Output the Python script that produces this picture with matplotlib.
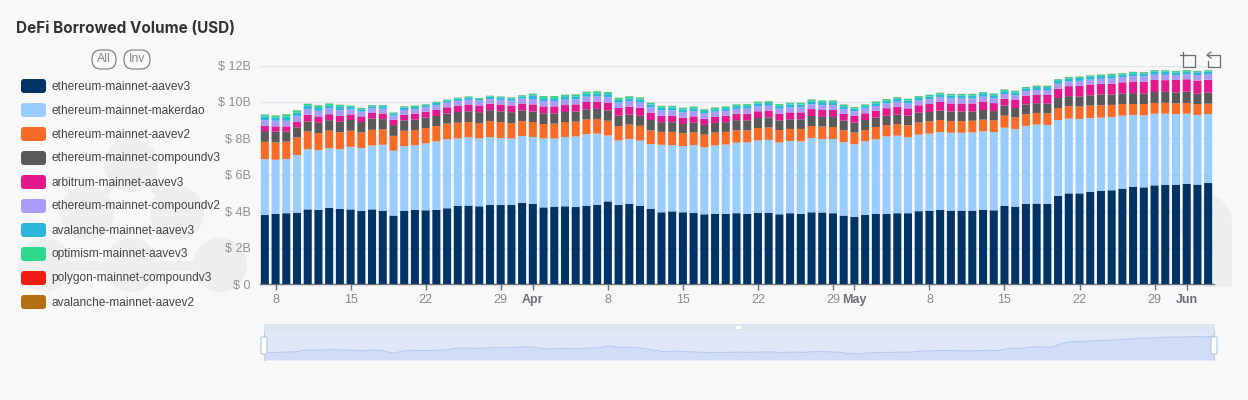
import numpy as np
import pandas as pd
import matplotlib
matplotlib.use("Agg")
import matplotlib.pyplot as plt
from matplotlib.patches import Circle, FancyBboxPatch, Rectangle
from matplotlib.lines import Line2D

W, H = 1248, 400
BG = "#f8f8f8"

dates = pd.date_range("2024-03-07", periods=89, freq="D")

series_names = ["ethereum-mainnet-aavev3", "ethereum-mainnet-makerdao", "ethereum-mainnet-aavev2",
                "ethereum-mainnet-compoundv3", "arbitrum-mainnet-aavev3", "ethereum-mainnet-compoundv2",
                "avalanche-mainnet-aavev3", "optimism-mainnet-aavev3", "polygon-mainnet-compoundv3",
                "avalanche-mainnet-aavev2"]
series_colors = ["#003366", "#99ccff", "#f76b26", "#595959", "#e3188d", "#a99bf7",
                 "#2bb6db", "#2cd98c", "#ee1c12", "#b36f12"]

eth_aavev3 = [3.79, 3.85, 3.89, 3.92, 4.10, 4.07, 4.18, 4.12, 4.10, 4.01, 4.10, 4.03, 3.76, 4.01, 4.07, 4.05,
              4.07, 4.16, 4.29, 4.31, 4.27, 4.34, 4.34, 4.34,
              4.45, 4.40, 4.21, 4.25, 4.27, 4.23, 4.30, 4.34, 4.54, 4.34, 4.40, 4.29, 4.12, 3.94, 3.99, 3.94,
              3.90, 3.83, 3.85, 3.85, 3.89, 3.85, 3.90, 3.91,
              3.83, 3.89, 3.85, 3.94, 3.93, 3.89, 3.76, 3.69, 3.80, 3.85, 3.85, 3.89, 3.89, 4.00, 4.03, 4.07,
              4.03, 4.03, 4.03, 4.07, 4.05,
              4.29, 4.25, 4.40, 4.42, 4.40, 4.84, 4.98, 4.98, 5.07, 5.11, 5.15, 5.24, 5.33, 5.31, 5.42, 5.44,
              5.44, 5.50, 5.46, 5.55]
eth_maker = [3.07, 2.98, 2.98, 3.17, 3.31, 3.29, 3.28, 3.29, 3.44, 3.46, 3.51, 3.62, 3.57, 3.57, 3.55, 3.68,
             3.77, 3.79, 3.71, 3.75, 3.73, 3.73, 3.68, 3.66,
             3.68, 3.68, 3.79, 3.75, 3.81, 3.88, 3.93, 3.92, 3.62, 3.55, 3.57, 3.59, 3.57, 3.71, 3.64, 3.64,
             3.73, 3.68, 3.77, 3.81, 3.88, 3.93, 3.99, 4.01,
             3.95, 3.97, 3.99, 4.08, 4.04, 4.08, 4.03, 3.99, 4.04, 4.10, 4.26, 4.26, 4.17, 4.21, 4.23, 4.28,
             4.28, 4.28, 4.30, 4.32, 4.30,
             4.30, 4.27, 4.29, 4.34, 4.34, 4.17, 4.11, 4.09, 4.05, 4.03, 4.03, 4.01, 3.96, 3.96, 3.94, 3.92,
             3.90, 3.86, 3.83, 3.79]
eth_aavev2 = [.95, .95, .95, .97, .97, .93, .97, .93, .88, .86, .86, .84, .81, .84, .84, .84,
              .84, .86, .86, .84, .84, .88, .88, .84,
              .82, .82, .79, .81, .82, .81, .82, .81, .81, .79, .79, .81, .75, .71, .73, .70,
              .70, .70, .70, .70, .68, .66, .68, .68,
              .68, .66, .68, .66, .68, .66, .66, .64, .62, .68, .62, .64, .66, .66, .68, .66,
              .64, .64, .64, .64, .64,
              .66, .64, .64, .64, .64, .66, .68, .68, .68, .68, .66, .64, .60, .62, .59, .60,
              .59, .59, .59, .57]
eth_compv3 = [.59, .59, .55, .55, .55, .57, .57, .57, .59, .57, .62, .57, .59, .57, .57, .57,
              .55, .55, .59, .59, .60, .60, .59, .60,
              .59, .57, .59, .57, .55, .55, .55, .55, .57, .57, .55, .55, .57, .53, .53, .51,
              .53, .53, .53, .53, .55, .55, .55, .55,
              .53, .53, .53, .55, .53, .55, .53, .55, .55, .51, .51, .53, .53, .55, .51, .51,
              .53, .53, .51, .53, .51,
              .55, .51, .53, .53, .53, .55, .55, .55, .57, .59, .57, .57, .60, .57, .60, .60,
              .60, .62, .57, .60]
arb_aavev3 = [.29, .29, .29, .29, .37, .35, .33, .33, .31, .31, .31, .31, .29, .31, .33, .33,
              .33, .35, .35, .37, .37, .35, .37, .37,
              .38, .40, .38, .38, .38, .40, .40, .40, .42, .42, .44, .44, .40, .35, .35, .35,
              .35, .33, .33, .35, .35, .37, .37, .37,
              .37, .38, .38, .38, .38, .38, .37, .37, .37, .38, .42, .42, .40, .40, .44, .48,
              .44, .44, .44, .46, .44,
              .38, .44, .48, .46, .48, .51, .55, .59, .59, .59, .59, .62, .64, .66, .66, .64,
              .68, .68, .73, .71]
eth_compv2 = [.31, .31, .31, .31, .31, .31, .31, .31, .27, .26, .26, .26, .24, .26, .24, .24,
              .26, .26, .26, .26, .26, .26, .26, .26,
              .27, .29, .29, .29, .29, .27, .29, .29, .29, .29, .29, .29, .29, .29, .29, .29,
              .29, .29, .29, .27, .27, .27, .27, .27,
              .27, .27, .27, .27, .27, .27, .27, .26, .26, .26, .26, .27, .27, .26, .26, .26,
              .27, .27, .27, .27, .27,
              .26, .26, .26, .27, .27, .27, .27, .27, .27, .27, .29, .27, .29, .29, .29, .29,
              .27, .27, .29, .29]
ava_aavev3 = [.20, .18, .22, .20, .18, .20, .16, .18, .13, .13, .11, .13, .11, .13, .13, .11,
              .13, .11, .13, .13, .09, .13, .13, .13,
              .11, .18, .16, .16, .16, .16, .16, .16, .18, .16, .16, .16, .16, .16, .16, .16,
              .15, .15, .13, .15, .15, .16, .16, .16,
              .16, .16, .16, .16, .16, .16, .15, .15, .13, .15, .15, .16, .16, .15, .15, .15,
              .16, .16, .16, .16, .16,
              .15, .15, .15, .16, .16, .16, .16, .16, .16, .16, .18, .16, .16, .16, .18, .18,
              .15, .16, .16, .16]
opt_aavev3 = [.11, .11, .13, .13, .11, .09, .11, .11, .07, .07, .05, .07, .05, .07, .07, .05,
              .05, .05, .05, .05, .05, .05, .05, .05,
              .07, .11, .11, .11, .11, .11, .11, .11, .11, .11, .11, .11, .09, .09, .09, .09,
              .09, .09, .09, .09, .09, .09, .09, .09,
              .09, .09, .09, .09, .09, .09, .09, .07, .09, .09, .09, .09, .09, .09, .09, .09,
              .09, .09, .09, .09, .09,
              .09, .09, .07, .07, .07, .09, .07, .07, .07, .07, .07, .07, .07, .07, .07, .07,
              .07, .07, .07, .07]
poly_compv3 = [.004] * 89
ava_aavev2 = [.004] * 89
series_values = [eth_aavev3, eth_maker, eth_aavev2, eth_compv3, arb_aavev3, eth_compv2,
                 ava_aavev3, opt_aavev3, poly_compv3, ava_aavev2]

y_ticks = [0, 2, 4, 6, 8, 10, 12]
y_tick_labels = ["$ 0", "$ 2B", "$ 4B", "$ 6B", "$ 8B", "$ 10B", "$ 12B"]
x_tick_dates = ["2024-03-08", "2024-03-15", "2024-03-22", "2024-03-29", "2024-04-01", "2024-04-08",
                "2024-04-15", "2024-04-22", "2024-04-29", "2024-05-01", "2024-05-08", "2024-05-15",
                "2024-05-22", "2024-05-29", "2024-06-01"]
x_tick_labels = ["8", "15", "22", "29", "Apr", "8", "15", "22", "29", "May", "8", "15", "22", "29", "Jun"]

plt.rcParams["font.family"] = ["Liberation Sans", "DejaVu Sans"]
fig = plt.figure(figsize=(W / 100, H / 100), dpi=100, facecolor=BG)


def axes_px(x0, y0, x1, y1, **kw):
    return fig.add_axes([x0 / W, 1 - y1 / H, (x1 - x0) / W, (y1 - y0) / H], **kw)


# pixel-space layer underneath the plot
back = axes_px(0, 0, W, H, zorder=0)
back.set_xlim(0, W)
back.set_ylim(H, 0)
back.axis("off")

WM = "#eeeeee"
for cx, cy in [(131, 165), (87, 213), (177, 213), (45, 265), (131, 265), (220, 265)]:
    back.add_patch(Circle((cx, cy), 27, fc=WM, ec="none"))
back.add_line(Line2D([45, 220], [266, 266], color=WM, lw=7))
back.add_line(Line2D([87, 131, 177], [213, 165, 213], color=WM, lw=5))
# clipped part of the next watermark tile at the right edge
back.add_patch(Circle((1205, 222), 27, fc=WM, ec="none"))
back.add_patch(Rectangle((1205, 222), 27, 65, fc=WM, ec="none"))

# main plot
ax = axes_px(259.5, 65.6, 1213.5, 284, zorder=1)
ax.patch.set_alpha(0)
x = np.arange(len(dates))
bottom = np.zeros(len(dates))
for vals, col in zip(series_values, series_colors):
    bars = ax.bar(x, vals, 0.75, bottom=bottom, color=col, linewidth=0, zorder=3)
    for b in bars:
        b.set_snap(False)
    bottom += np.array(vals)
ax.set_xlim(-0.5, 88.5)
ax.set_ylim(0, 12)
ax.set_yticks(y_ticks)
ax.set_yticklabels(y_tick_labels, color="#8f8f8f", fontsize=9)
ax.tick_params(axis="y", length=0, pad=6.5)
ax.grid(axis="y", color="#e0e6f1", lw=1, zorder=0)
ax.set_axisbelow(True)
for s in ("top", "right", "left"):
    ax.spines[s].set_visible(False)
ax.spines["bottom"].set_color("#6e7079")
ax.spines["bottom"].set_linewidth(1)
tick_pos = [dates.get_loc(pd.Timestamp(d)) for d in x_tick_dates]
ax.set_xticks(tick_pos)
ax.set_xticklabels(x_tick_labels, color="#8a8a8a", fontsize=9)
for lab in ax.get_xticklabels():
    if lab.get_text() in ("Apr", "May", "Jun"):
        lab.set_fontweight("bold")
        lab.set_color("#6e7079")
ax.tick_params(axis="x", length=4, width=1, color="#6e7079", pad=3)

# data-zoom slider: its overview follows the first series
sl = axes_px(263.5, 324, 1214.5, 360, zorder=1)
sl.set_facecolor("#e0e7f8")
sl.set_xlim(0, 88)
sl.set_ylim(3.07, 6.8)
sl.fill_between(x, eth_aavev3, 3.07, color="#d0ddf8", lw=0)
sl.plot(x, eth_aavev3, color="#b7c9f0", lw=0.8)
sl.set_xticks([])
sl.set_yticks([])
for s in sl.spines.values():
    s.set_visible(False)

# pixel-space layer on top: title, legend, buttons, handles, icons
top = axes_px(0, 0, W, H, zorder=5)
top.set_xlim(0, W)
top.set_ylim(H, 0)
top.axis("off")
top.patch.set_alpha(0)

top.add_patch(Rectangle((263.5, 324), 951, 7, fc="#dde3f1", ec="none"))
top.text(16, 28.5, "DeFi Borrowed Volume (USD)", fontsize=11.0, fontweight="bold", color="#333333",
         family=["Inter", "DejaVu Sans"], va="center", ha="left")

for name, col, yy in zip(series_names, series_colors, 86 + 24 * np.arange(10)):
    top.add_patch(FancyBboxPatch((24, yy - 4), 19, 8, boxstyle="round,pad=3", fc=col, ec="none"))
    top.text(51, yy + 0.5, name, fontsize=8.6, color="#444444", va="center", ha="left")

for lbl, x0, x1 in [("All", 92, 116), ("Inv", 124, 150)]:
    top.add_patch(FancyBboxPatch((x0 + 9, 59), x1 - x0 - 18, 1, boxstyle="round,pad=9", fc="none",
                                 ec="#777777", lw=0.8))
    top.text((x0 + x1) / 2, 59, lbl, fontsize=8.8, color="#888888", ha="center", va="center")

# toolbox icons
for xs, ys in [([1183, 1183, 1195, 1195, 1183], [52, 67, 67, 55, 55]),
               ([1180, 1187], [55, 55]),
               ([1212, 1220, 1220, 1208, 1208], [55, 55, 67, 67, 61]),
               ([1211, 1207, 1211], [52, 55, 58]),
               ([1207, 1212], [55, 55])]:
    top.add_line(Line2D(xs, ys, color="#6e6e6e", lw=0.9))

# slider handles
for hx in (264, 1214):
    top.add_line(Line2D([hx, hx], [331, 360], color="#c4cde0", lw=0.8))
    top.add_patch(FancyBboxPatch((hx - 2, 338), 4, 15, boxstyle="round,pad=1", fc="white", ec="#b9c4dc",
                                 lw=0.8, zorder=4))
top.add_patch(Rectangle((736, 326), 5, 3, fc="white", ec="none"))

fig.savefig("out.png", dpi=100, facecolor=BG)
